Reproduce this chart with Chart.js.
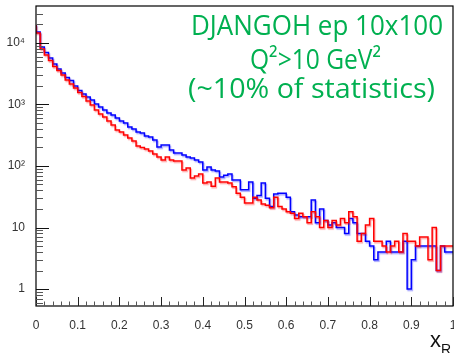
<!DOCTYPE html>
<html>
<head>
<meta charset="utf-8">
<script src="https://cdn.jsdelivr.net/npm/chart.js@4.4.0/dist/chart.umd.min.js"></script>
<style>
  html, body { margin: 0; padding: 0; background: #fff; }
</style>
</head>
<body>
<canvas id="chart" width="454" height="353"></canvas>
<script>
'use strict';

// histogram binning of x_R
const nBins = 100;
const xLow = 0;
const xHigh = 1;

// bin contents
const blueCounts = [20370, 15100, 8610, 7010, 5700, 4560, 3780, 3250, 2750, 2460,
  2000, 1690, 1480, 1320, 1180, 1020, 911, 814, 727, 675,
  603, 539, 500, 431, 400, 357, 344, 307, 296, 265,
  204, 219, 219, 182, 163, 163, 151, 140, 135, 125,
  116, 86, 96, 86, 83, 66, 71, 74, 59, 59,
  41, 41, 55, 30, 33, 53, 30, 22, 35, 36,
  36, 31, 18, 16, 15, 15, 15, 28, 12, 20,
  13, 11, 12, 10, 10, 8, 14, 12, 8, 8,
  6, 5, 3, 4, 4, 6, 4, 4, 4, 6,
  1, 3, 5, 5, 5, 5, 5, 2, 5, 4];

const redCounts = [19600, 14550, 7990, 6380, 5190, 4150, 3570, 3020, 2500, 2150,
  1850, 1570, 1350, 1140, 982, 814, 701, 626, 539, 464,
  385, 357, 319, 285, 255, 211, 200, 189, 175, 157,
  140, 125, 140, 125, 121, 121, 86, 93, 64, 69,
  74, 53, 55, 47, 64, 55, 55, 53, 46, 36,
  31, 25, 25, 31, 28, 24, 23, 21, 31, 22,
  20, 18, 17, 14, 17, 15, 12, 18, 15, 10,
  13, 10, 13, 11, 14, 12, 18, 15, 6, 8,
  11, 14, 6, 6, 5, 4, 5, 6, 4, 8,
  6, 6, 5, 7, 7, 3, 10, 2, 5, 5];

const xTicks = [0, 0.1, 0.2, 0.3, 0.4, 0.5, 0.6, 0.7, 0.8, 0.9, 1];
const yTicks = [1, 10, 100, 1000, 10000];
const yTickLabels = ['1', '10', '10²', '10³', '10⁴'];
const boxLines = ['DJANGOH ep 10x100', 'Q²>10 GeV²', '(~10% of statistics)'];

// left edge of every bin plus the closing edge, for a stepped line
function histPoints(counts) {
  const w = (xHigh - xLow) / nBins;
  const pts = counts.map((c, i) => ({ x: xLow + i * w, y: c }));
  pts.push({ x: xHigh, y: counts[counts.length - 1] });
  return pts;
}

// soft offset copy under each line, like the scanned original
const halo = {
  id: 'halo',
  beforeDatasetDraw(chart, args) {
    const ctx = chart.ctx;
    ctx.save();
    ctx.shadowColor = args.index === 0 ? 'rgba(255,0,0,0.35)' : 'rgba(0,0,255,0.35)';
    ctx.shadowOffsetX = 1;
    ctx.shadowOffsetY = 1.5;
    ctx.shadowBlur = 1;
  },
  afterDatasetDraw(chart) {
    chart.ctx.restore();
  }
};

const rootFrame = {
  id: 'rootFrame',
  afterDraw(chart) {
    const ctx = chart.ctx;
    const a = chart.chartArea;
    const xs = chart.scales.x;
    const ys = chart.scales.y;
    ctx.save();

    // box
    ctx.strokeStyle = '#000';
    ctx.lineWidth = 1.2;
    ctx.strokeRect(a.left, a.top, a.right - a.left, a.bottom - a.top);

    // x ticks, pointing inwards
    for (let i = 0; i <= 50; i++) {
      const px = Math.round(xs.getPixelForValue(i * 0.02)) + 0.5;
      const major = i % 5 === 0;
      ctx.strokeStyle = major ? '#222' : '#555';
      ctx.lineWidth = 1;
      ctx.beginPath();
      ctx.moveTo(px, a.bottom);
      ctx.lineTo(px, a.bottom - (major ? 9 : 4.5));
      ctx.stroke();
    }

    // y ticks, log decades
    for (let d = -1; d <= 4; d++) {
      for (let m = 1; m <= 9; m++) {
        const v = m * Math.pow(10, d);
        if (v < ys.min || v > ys.max) continue;
        const py = Math.round(ys.getPixelForValue(v)) + 0.5;
        ctx.strokeStyle = m === 1 ? '#111' : '#555';
        ctx.lineWidth = 1;
        ctx.beginPath();
        ctx.moveTo(a.left, py);
        ctx.lineTo(a.left + (m === 1 ? 13 : 7), py);
        ctx.stroke();
      }
    }

    // green text box
    ctx.fillStyle = '#00b050';
    ctx.font = '28px "Open Sans"';
    ctx.textBaseline = 'alphabetic';
    ctx.textAlign = 'left';
    const spots = [[191, 35, 252], [250, 69, 131], [188, 98, 247]];
    boxLines.forEach((t, i) => {
      const [lx, by, tw] = spots[i];
      const w = ctx.measureText(t).width;
      ctx.save();
      ctx.translate(lx, by);
      ctx.scale(tw / w, 1);
      ctx.fillText(t, 0, 0);
      ctx.restore();
    });

    // axis title x_R
    ctx.fillStyle = '#111';
    ctx.font = '22px "Liberation Sans"';
    ctx.fillText('x', 430, 347);
    ctx.font = '14px "Liberation Sans"';
    ctx.fillText('R', 441, 354);

    ctx.restore();
  }
};

new Chart(document.getElementById('chart'), {
  type: 'line',
  data: {
    datasets: [{
      label: 'red',
      data: histPoints(redCounts),
      borderColor: '#ff0000',
      borderWidth: 1.5,
      stepped: 'after',
      pointRadius: 0,
      fill: false
    }, {
      label: 'blue',
      data: histPoints(blueCounts),
      borderColor: '#0000ff',
      borderWidth: 1.5,
      stepped: 'after',
      pointRadius: 0,
      fill: false
    }]
  },
  options: {
    responsive: false,
    animation: false,
    devicePixelRatio: 1,
    layout: { padding: { top: 6, right: 1, left: 0, bottom: 0 } },
    plugins: {
      legend: { display: false },
      tooltip: { enabled: false }
    },
    scales: {
      x: {
        type: 'linear',
        min: xLow,
        max: xHigh,
        afterBuildTicks: s => { s.ticks = xTicks.map(v => ({ value: v })); },
        afterFit: s => { s.height = 47; s.paddingLeft = 0; s.paddingRight = 0; },
        ticks: {
          padding: 4,
          maxRotation: 0,
          autoSkip: false,
          color: '#333',
          font: { family: 'Liberation Sans', size: 12 },
          callback: v => String(Number(v.toFixed(1)))
        },
        grid: { display: false },
        border: { display: false }
      },
      y: {
        type: 'logarithmic',
        min: 0.53,
        max: 39800,
        afterBuildTicks: s => { s.ticks = yTicks.map(v => ({ value: v })); },
        afterFit: s => { s.width = 36; s.paddingTop = 0; s.paddingBottom = 0; },
        ticks: {
          padding: 3,
          color: '#333',
          font: { family: 'Liberation Sans', size: 12 },
          callback: (v, i) => yTickLabels[i]
        },
        grid: { display: false },
        border: { display: false }
      }
    }
  },
  plugins: [halo, rootFrame]
});
</script>
</body>
</html>
